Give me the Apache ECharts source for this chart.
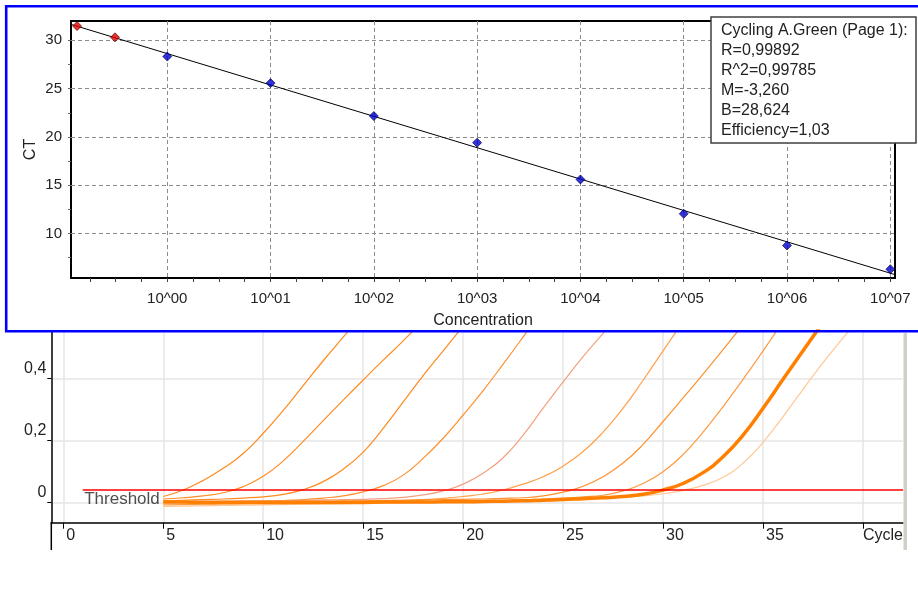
<!DOCTYPE html>
<html>
<head>
<meta charset="utf-8">
<title>Standard curve / Cycling A.Green</title>
<script src="https://cdn.jsdelivr.net/npm/echarts@6/dist/echarts.min.js"></script>
<style>
	html, body { margin: 0; padding: 0; background: #fff; }
	#main { width: 918px; height: 589px; }
</style>
</head>
<body>
<div id="main"></div>
<script type="text/javascript">
	// ---- standard curve (top) ----
	var stdConc = [1, 10, 100, 1000, 10000, 100000, 1000000, 10000000];
	var stdCt = [28.32, 25.57, 22.16, 19.41, 15.60, 12.05, 8.76, 6.31];
	var unkConc = [0.134, 0.312];
	var unkCt = [31.47, 30.31];
	// fitted line at both ends
	var fitConc = [0.117, 11100000];
	var fitCt = [31.65, 5.75];
	var statLines = ['Cycling A.Green (Page 1):', 'R=0,99892', 'R^2=0,99785', 'M=-3,260', 'B=28,624', 'Efficiency=1,03'];
	var concTicks = [-0.75, -0.5, -0.25, 0, 0.25, 0.5, 0.75, 1, 1.25, 1.5, 1.75, 2, 2.25, 2.5, 2.75, 3, 3.25, 3.5, 3.75, 4, 4.25, 4.5, 4.75, 5, 5.25, 5.5, 5.75, 6, 6.25, 6.5, 6.75, 7];
	var ctTicks = [7.5, 10, 12.5, 15, 17.5, 20, 22.5, 25, 27.5, 30];

	// ---- amplification curves (bottom) ----
	var cycles = [5, 6, 7, 8, 9, 10, 11, 12, 13, 14, 15, 16, 17, 18, 19, 20, 21, 22, 23, 24, 25, 26, 27, 28, 29, 30, 31, 32, 33, 34, 35, 36, 37, 38, 39, 40];
	var curve1 = [0.020, 0.041, 0.072, 0.111, 0.159, 0.224, 0.298, 0.378, 0.458, 0.534, 0.610];
	var curve2 = [0.012, 0.016, 0.022, 0.032, 0.052, 0.085, 0.135, 0.198, 0.265, 0.331, 0.396, 0.460, 0.522, 0.590];
	var curve3 = [0.006, 0.008, 0.010, 0.012, 0.015, 0.019, 0.027, 0.042, 0.068, 0.108, 0.163, 0.240, 0.325, 0.410, 0.490, 0.570];
	var curve4 = [0.002, 0.002, 0.003, 0.003, 0.004, 0.005, 0.007, 0.010, 0.015, 0.022, 0.035, 0.055, 0.089, 0.143, 0.208, 0.283, 0.362, 0.447, 0.535, 0.625];
	var curve5 = [0.004, 0.004, 0.005, 0.005, 0.006, 0.006, 0.007, 0.008, 0.009, 0.010, 0.011, 0.013, 0.017, 0.025, 0.038, 0.060, 0.095, 0.145, 0.218, 0.305, 0.390, 0.471, 0.546, 0.620];
	var curve6 = [0.000, 0.000, 0.001, 0.001, 0.001, 0.002, 0.002, 0.003, 0.003, 0.004, 0.005, 0.006, 0.008, 0.010, 0.014, 0.020, 0.028, 0.041, 0.060, 0.084, 0.118, 0.165, 0.228, 0.305, 0.395, 0.490, 0.585];
	var curve7 = [0.003, 0.003, 0.003, 0.004, 0.004, 0.004, 0.005, 0.005, 0.005, 0.006, 0.006, 0.007, 0.008, 0.009, 0.010, 0.011, 0.012, 0.014, 0.016, 0.022, 0.034, 0.053, 0.084, 0.128, 0.188, 0.262, 0.338, 0.415, 0.494, 0.575];
	var curve8 = [-0.007, -0.006, -0.005, -0.004, -0.003, -0.002, -0.002, -0.001, -0.001, 0.000, 0.000, 0.001, 0.001, 0.002, 0.003, 0.004, 0.005, 0.007, 0.009, 0.012, 0.015, 0.019, 0.024, 0.038, 0.062, 0.100, 0.155, 0.228, 0.310, 0.398, 0.490, 0.585];
	var curve9 = [0.002, 0.002, 0.001, 0.001, 0.001, 0.001, 0.001, 0.001, 0.001, 0.001, 0.001, 0.002, 0.002, 0.002, 0.003, 0.003, 0.004, 0.005, 0.006, 0.008, 0.010, 0.013, 0.016, 0.020, 0.027, 0.041, 0.062, 0.097, 0.148, 0.218, 0.305, 0.398, 0.490, 0.582];
	var curve10 = [-0.012, -0.011, -0.010, -0.009, -0.008, -0.007, -0.006, -0.005, -0.004, -0.003, -0.002, -0.001, 0.000, 0.001, 0.002, 0.003, 0.004, 0.005, 0.006, 0.008, 0.010, 0.012, 0.015, 0.018, 0.022, 0.029, 0.040, 0.056, 0.082, 0.128, 0.195, 0.278, 0.366, 0.452, 0.532, 0.610];
	var threshold = 0.041;
	var thresholdFrom = 0.97;
	var thresholdTo = 42;
	var cycleTicks = [0, 5, 10, 15, 20, 25, 30, 35, 40];
	var fluorTicks = [0, 0.2, 0.4];

	var FONT = '"Liberation Sans", Arial, sans-serif';

	function pairs(xs, ys) {
		var out = [];
		for(var i = 0; i < ys.length; i++) out.push([xs[i], ys[i]]);
		return out;
	}

	function curveSeries(vals, color, width) {
		return {
			type: 'line',
			xAxisIndex: 1,
			yAxisIndex: 1,
			data: pairs(cycles, vals),
			smooth: 0.5,
			symbol: 'none',
			silent: true,
			lineStyle: { color: color, width: width },
			z: width > 2 ? 4 : 3
		};
	}

	var myChart = echarts.init(document.getElementById('main'), null, { renderer: 'canvas' });

	myChart.setOption({
		animation: false,
		backgroundColor: '#fff',
		textStyle: { fontFamily: FONT },
		grid: [{
			left: 71, top: 21, width: 824, height: 257,
			show: true, borderColor: '#000', borderWidth: 2, backgroundColor: '#fff'
		}, {
			left: 51.3, right: 15, top: 331, bottom: 66.3
		}],
		xAxis: [{
			gridIndex: 0,
			type: 'log',
			logBase: 10,
			min: fitConc[0],
			max: fitConc[1],
			name: 'Concentration',
			nameLocation: 'middle',
			nameGap: 35,
			nameTextStyle: { fontSize: 16, color: '#222', fontFamily: FONT },
			axisLine: { show: false },
			axisTick: { show: false },
			axisLabel: {
				fontSize: 15, color: '#222', margin: 13, fontFamily: FONT,
				showMinLabel: false, showMaxLabel: false,
				formatter: function(v) {
					var e = Math.round(Math.log(v) / Math.LN10);
					return '10^' + (e < 10 && e >= 0 ? '0' : '') + e;
				}
			},
			splitLine: {
				show: true, showMinLine: false, showMaxLine: false,
				lineStyle: { color: '#8c8c8c', type: [4, 3], width: 1 }
			}
		}, {
			gridIndex: 1,
			type: 'value',
			min: -0.6,
			max: 42,
			splitNumber: 8,
			axisLine: { show: true, onZero: false, lineStyle: { color: '#000', width: 1.5 } },
			axisTick: { show: true, length: 6, customValues: cycleTicks, lineStyle: { color: '#000' } },
			axisLabel: {
				customValues: cycleTicks,
				align: 'left',
				margin: 5,
				fontSize: 16, color: '#222', fontFamily: FONT,
				formatter: function(v) { return v === 40 ? '{c|Cycle}' : '{n|' + v + '}'; },
				rich: {
					n: { padding: [0, 0, 0, 3], fontSize: 16, color: '#222', fontFamily: FONT },
					c: { padding: [0, 0, 0, 0], fontSize: 16, color: '#222', fontFamily: FONT }
				}
			},
			splitLine: { show: true, lineStyle: { color: '#e6e6e6', width: 1.5 } }
		}, {
			// tick marks only (quarter decades) for the concentration axis
			gridIndex: 0,
			type: 'log',
			logBase: 10,
			position: 'bottom',
			min: fitConc[0],
			max: fitConc[1],
			axisLine: { show: false },
			axisTick: {
				show: true, length: 4, inside: false,
				lineStyle: { color: '#444', width: 1 },
				customValues: concTicks.map(function(e) { return Math.pow(10, e); })
			},
			axisLabel: { show: false },
			splitLine: { show: false }
		}],
		yAxis: [{
			gridIndex: 0,
			type: 'value',
			min: 5.4,
			max: 32,
			splitNumber: 5,
			name: 'CT',
			nameLocation: 'middle',
			nameGap: 32,
			nameMoveOverlap: false,
			nameRotate: 90,
			nameTextStyle: { fontSize: 16, color: '#222', fontFamily: FONT },
			axisLine: { show: false },
			axisTick: { show: false },
			axisLabel: { fontSize: 15, color: '#222', margin: 9, showMinLabel: false, showMaxLabel: false, fontFamily: FONT },
			splitLine: {
				show: true, showMinLine: false, showMaxLine: false,
				lineStyle: { color: '#8c8c8c', type: [4, 3], width: 1 }
			}
		}, {
			gridIndex: 1,
			type: 'value',
			min: -0.0645,
			max: 0.554,
			splitNumber: 3,
			axisLine: { show: true, onZero: false, lineStyle: { color: '#000', width: 1.5 } },
			axisTick: { show: true, length: 4, customValues: fluorTicks, lineStyle: { color: '#000' } },
			axisLabel: {
				customValues: fluorTicks,
				fontSize: 16, color: '#222', margin: 5, fontFamily: FONT,
				verticalAlign: 'bottom',
				padding: [0, 0, 2, 0],
				formatter: function(v) { return String(v).replace('.', ','); }
			},
			splitLine: { show: true, lineStyle: { color: '#e6e6e6', width: 1.5 } }
		}, {
			// tick marks only (half steps) for the CT axis
			gridIndex: 0,
			type: 'value',
			position: 'left',
			min: 5.4,
			max: 32,
			axisLine: { show: false },
			axisTick: { show: true, length: 3, customValues: ctTicks, lineStyle: { color: '#666' } },
			axisLabel: { show: false },
			splitLine: { show: false }
		}],
		series: [
			// top: fitted line + points
			{
				type: 'line', xAxisIndex: 0, yAxisIndex: 0,
				data: pairs(fitConc, fitCt),
				symbol: 'none', silent: true,
				lineStyle: { color: '#000', width: 1 },
				z: 3
			},
			{
				type: 'scatter', xAxisIndex: 0, yAxisIndex: 0,
				data: pairs(stdConc, stdCt),
				symbol: 'diamond', symbolSize: 9,
				itemStyle: { color: '#0000d0', borderColor: '#000040', borderWidth: 0.8 },
				z: 4
			},
			{
				type: 'scatter', xAxisIndex: 0, yAxisIndex: 0,
				data: pairs(unkConc, unkCt),
				symbol: 'diamond', symbolSize: 9,
				itemStyle: { color: '#e00000', borderColor: '#500000', borderWidth: 0.8 },
				z: 4
			},
			// bottom: amplification curves
			curveSeries(curve1, '#ff8a1e', 1.2),
			curveSeries(curve2, '#ff8c22', 1.2),
			curveSeries(curve3, '#ff8a1e', 1.2),
			curveSeries(curve4, '#ff9030', 1.2),
			curveSeries(curve5, '#f3a080', 1.2),
			curveSeries(curve6, '#ffa04a', 1.2),
			curveSeries(curve7, '#ff9030', 1.2),
			curveSeries(curve8, '#ff9a40', 1.2),
			curveSeries(curve10, '#ffc896', 1.2),
			curveSeries(curve9, '#ff7f00', 3.5),
			// threshold
			{
				type: 'line', xAxisIndex: 1, yAxisIndex: 1,
				data: [[thresholdFrom, threshold], [thresholdTo, threshold]],
				symbol: 'none', silent: true,
				lineStyle: { color: '#ff0000', width: 1.3 },
				z: 5
			},
			{
				type: 'scatter', xAxisIndex: 1, yAxisIndex: 1,
				data: [[thresholdFrom, threshold]],
				symbolSize: 1,
				itemStyle: { color: 'transparent' },
				silent: true,
				label: {
					show: true, position: [2, 1], formatter: 'Threshold',
					fontSize: 17, color: '#222', fontFamily: FONT
				},
				z: 6
			}
		],
		graphic: [
			{
				type: 'rect', z: 99, silent: true,
				shape: { x: 6.2, y: 6.2, width: 940, height: 325 },
				style: { fill: null, stroke: '#0000ff', lineWidth: 2.6 }
			},
			{
				type: 'rect', z: 100, silent: true,
				shape: { x: 711, y: 17, width: 205, height: 126 },
				style: { fill: '#fff', stroke: '#404040', lineWidth: 1.5 }
			},
			{
				type: 'text', z: 101, silent: true,
				x: 721, y: 20.7,
				style: { text: statLines.join('\n'), font: '16px ' + FONT, lineHeight: 20, fill: '#222' }
			},
			{
				type: 'rect', z: 99, silent: true,
				shape: { x: 903.5, y: 333, width: 3.5, height: 217 },
				style: { fill: '#d2cfc9' }
			},
			{
				type: 'line', z: 99, silent: true,
				shape: { x1: 51.3, y1: 522, x2: 51.3, y2: 550 },
				style: { stroke: '#000', lineWidth: 1.5 }
			}
		]
	});
</script>
</body>
</html>
